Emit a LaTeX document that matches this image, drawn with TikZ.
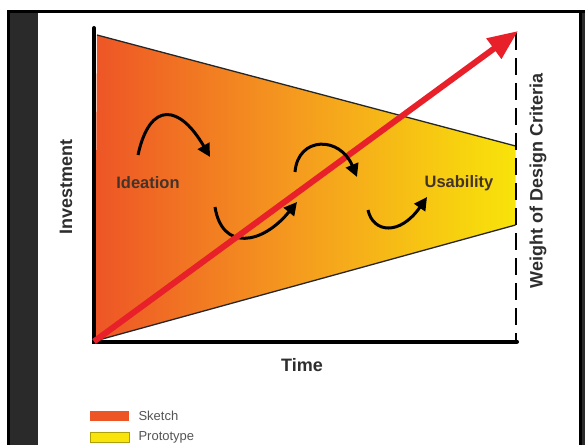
\documentclass[tikz,border=0pt]{standalone}
\usepackage{fontspec}
\setmainfont{Liberation Sans}
\usetikzlibrary{arrows.meta}
\definecolor{FrameGray}{HTML}{2A2A2A}
\definecolor{SketchOrange}{HTML}{EE5526}
\definecolor{MidOrange}{HTML}{F59E1E}
\definecolor{ProtoYellow}{HTML}{F8E40A}
\definecolor{ArrowRed}{HTML}{E8202A}
\definecolor{LabelBrown}{HTML}{44332A}
\definecolor{AxisInk}{HTML}{2E2E2E}
\definecolor{LegendInk}{HTML}{555555}

\begin{document}
\begin{tikzpicture}[x=1pt,y=1pt,
  loop/.style={line width=3pt,-{Triangle[length=13pt,width=13pt]}},
  axislabel/.style={font=\fontsize{18}{20}\selectfont\bfseries,text=AxisInk},
  phase/.style={font=\fontsize{16.5}{18}\selectfont\bfseries,text=LabelBrown},
  legendtext/.style={font=\fontsize{13}{15}\selectfont,text=LegendInk,anchor=west}]
  \useasboundingbox (0,0) rectangle (585,445);
  \fill[white] (0,0) rectangle (585,445);
  \fill[black] (7,0) rectangle (585,435);
  \fill[FrameGray] (10,0) rectangle (585,432);
  \fill[black] (579,0) rectangle (582,432);
  \fill[white] (38,0) rectangle (579,432);

  \coordinate (origin) at (94,103.5);
  \coordinate (ytop) at (94,417);
  \coordinate (xend) at (517,103.5);
  \coordinate (goal) at (518,414);

  \shade[left color=SketchOrange,right color=ProtoYellow,middle color=MidOrange]
    (95,104) -- (97,410) -- (515.5,299) -- (515.5,220) -- cycle;
  \draw[line width=1.3pt,black!85] (97,410) -- (515.5,299);
  \draw[line width=1.3pt,black!85] (95,104) -- (515.5,220);
  \draw[line width=2pt,dash pattern=on 17pt off 8pt] (515.5,412) -- (515.5,104);
  \draw[line width=4pt,line cap=round] (ytop) -- (origin) -- (xend);

  \draw[loop] (138,290) .. controls (150,345) and (180,340) .. (210,288);
  \draw[loop] (215,238) .. controls (222,194) and (262,200) .. (297,243);
  \draw[ArrowRed,line width=6pt,-{Triangle[length=30pt,width=24pt]}] (origin) -- (goal);
  \draw[loop] (295,273) .. controls (298,309) and (340,309) .. (357,268);
  \draw[loop] (368,235) .. controls (373,212) and (400,209) .. (427,248);

  \node[phase] (ideation) at (148,262) {Ideation};
  \node[phase] (usability) at (459,262) {Usability};
  \node[axislabel,rotate=90] (invest) at (66,258) {Investment};
  \node[axislabel,rotate=90] (weight) at (538,264) {Weight of Design Criteria};
  \node[axislabel] (time) at (302,80) {Time};

  \fill[SketchOrange] (90,24) rectangle (129,34);
  \filldraw[fill=ProtoYellow,draw=ProtoYellow!70!black,line width=0.5pt] (90,3) rectangle (129,13);
  \node[legendtext] (sketch) at (135,29) {Sketch};
  \node[legendtext] (proto) at (135,8) {Prototype};
\end{tikzpicture}
\end{document}
